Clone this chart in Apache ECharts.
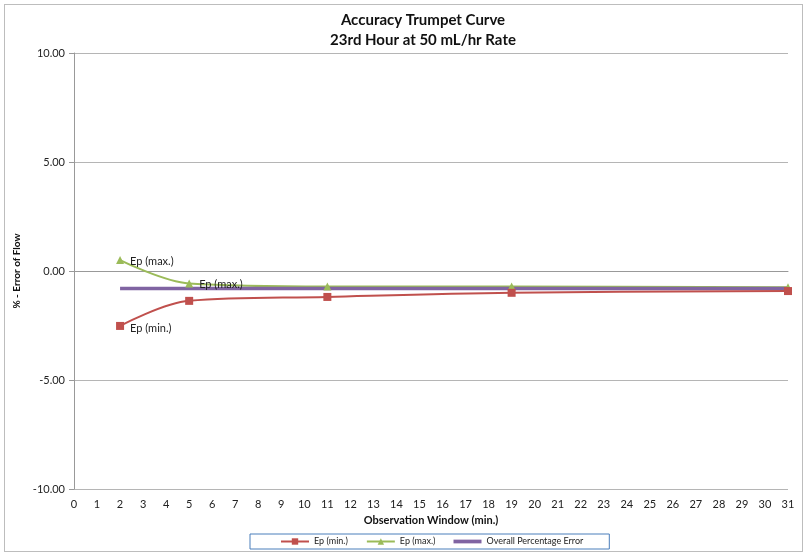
<!DOCTYPE html>
<html><head><meta charset="utf-8">
<script src="https://cdn.jsdelivr.net/npm/echarts@6/dist/echarts.min.js"></script>
<style>
html,body{margin:0;padding:0;background:#fff;}
#frame{position:absolute;left:4px;top:4px;width:797px;height:546px;border:1px solid #bdbdbd;}
#c{position:absolute;left:0;top:0;width:806px;height:553px;}
</style></head><body>
<div id="frame"></div>
<div id="c"></div>
<script>
const xValues = [2, 5, 11, 19, 31];
const epMin = [-2.52, -1.37, -1.19, -1.00, -0.92];
const epMax = [0.50, -0.57, -0.71, -0.71, -0.75];
const overall = [-0.80, -0.80, -0.80, -0.80, -0.80];
const seriesNames = ['Ep (min.)', 'Ep (max.)', 'Overall Percentage Error'];
const FONT = 'Lato, "Open Sans", sans-serif';

const pairs = arr => xValues.map((x, i) => [x, arr[i]]);
const chart = echarts.init(document.getElementById('c'));
chart.setOption({
  animation: false,
  title: {
    text: 'Accuracy Trumpet Curve\n23rd Hour at 50 mL/hr Rate',
    left: 418, top: 5, textAlign: 'center',
    textStyle: {fontFamily: FONT, fontSize: 15, fontWeight: 'bold', color: '#111', lineHeight: 20}
  },
  grid: {left: 74, right: 18, top: 53, bottom: 64, containLabel: false},
  legend: {
    bottom: 4, left: 250,
    data: [
      {name: seriesNames[0]},
      {name: seriesNames[1]},
      {name: seriesNames[2], icon: 'path://M0,0h30v4h-30z'}
    ],
    itemWidth: 28, itemHeight: 8, itemGap: 18,
    borderColor: '#4a7ebb', borderWidth: 1, borderRadius: 0,
    padding: [3, 26, 3, 30],
    textStyle: {fontFamily: FONT, fontSize: 9, color: '#222'}
  },
  xAxis: {
    type: 'value', min: 0, max: 31, interval: 1,
    name: 'Observation Window (min.)', nameLocation: 'middle', nameGap: 24,
    nameTextStyle: {fontFamily: FONT, fontSize: 11, fontWeight: 'bold', color: '#111'},
    axisLine: {lineStyle: {color: '#999'}},
    axisTick: {show: false},
    splitLine: {show: false},
    axisLabel: {fontFamily: FONT, fontSize: 11, color: '#222', margin: 10}
  },
  yAxis: {
    type: 'value', min: -10, max: 10, interval: 5,
    name: '% - Error of Flow', nameLocation: 'middle', nameGap: 46, nameRotate: 90,
    nameTextStyle: {fontFamily: FONT, fontSize: 10, fontWeight: 'bold', color: '#111'},
    axisLine: {show: true, lineStyle: {color: '#999'}},
    axisTick: {show: true, length: 5, lineStyle: {color: '#999'}},
    splitLine: {lineStyle: {color: '#b5b5b5'}},
    axisLabel: {fontFamily: FONT, fontSize: 11, color: '#222', margin: 9,
      formatter: v => v.toFixed(2)}
  },
  series: [
    {
      name: seriesNames[0], type: 'line', smooth: 0.35, data: pairs(epMin),
      symbol: 'rect', symbolSize: 8, z: 3,
      lineStyle: {color: '#c0504d', width: 2}, itemStyle: {color: '#c0504d'},
      label: {show: true, position: 'right', distance: 6, offset: [0, 3],
        fontFamily: FONT, fontSize: 11, color: '#222',
        formatter: p => p.dataIndex === 0 ? 'Ep (min.)' : ''}
    },
    {
      name: seriesNames[1], type: 'line', smooth: 0.35, data: pairs(epMax),
      symbol: 'triangle', symbolSize: 8, z: 2,
      lineStyle: {color: '#9bbb59', width: 2}, itemStyle: {color: '#9bbb59'},
      label: {show: true, position: 'right', distance: 6, offset: [0, 1],
        fontFamily: FONT, fontSize: 11, color: '#222',
        formatter: p => p.dataIndex <= 1 ? 'Ep (max.)' : ''}
    },
    {
      name: seriesNames[2], type: 'line', data: pairs(overall),
      symbol: 'none', z: 2,
      lineStyle: {color: '#8064a2', width: 3.5}, itemStyle: {color: '#8064a2'}
    }
  ]
});
</script>
</body></html>
